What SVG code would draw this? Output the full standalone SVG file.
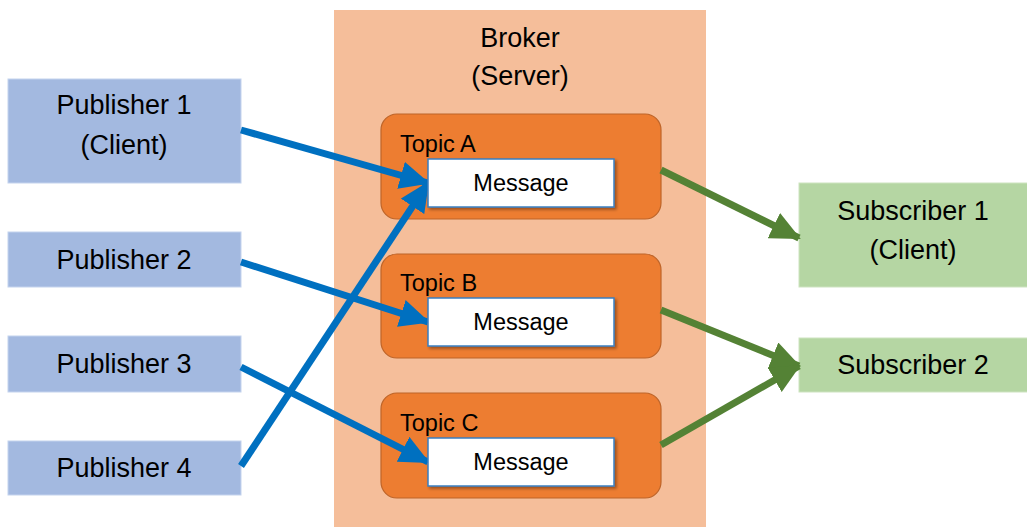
<svg xmlns="http://www.w3.org/2000/svg" width="1027" height="527" viewBox="0 0 1027 527">
<style>
text{font-family:"Liberation Sans",Arial,sans-serif;fill:#000}
.big{font-size:27px;text-anchor:middle}
.sm{font-size:23.5px}
.msgt{font-size:23.5px;text-anchor:middle}
.pub{fill:#A3B9E0;stroke:#C4D3EE;stroke-width:1}
.sub{fill:#B5D6A3;stroke:#CDE3C0;stroke-width:1}
.topic{fill:#ED7D31;stroke:#BE6428;stroke-width:1.2}
.msg{fill:#fff;stroke:#3A7FC1;stroke-width:1.5}
.blue{stroke:#0070C0;stroke-width:7;fill:none;marker-end:url(#ab)}
.green{stroke:#548235;stroke-width:7;fill:none;marker-end:url(#ag)}
</style>
<defs>
<marker id="ab" markerUnits="userSpaceOnUse" markerWidth="30" markerHeight="28" refX="28" refY="14" orient="auto" viewBox="0 0 30 28"><path d="M0,0 L30,14 L0,28 Z" fill="#0070C0"/></marker>
<marker id="ag" markerUnits="userSpaceOnUse" markerWidth="30" markerHeight="28" refX="28" refY="14" orient="auto" viewBox="0 0 30 28"><path d="M0,0 L30,14 L0,28 Z" fill="#548235"/></marker>
<filter id="sh" x="-10%" y="-20%" width="130%" height="150%"><feDropShadow dx="2" dy="2" stdDeviation="1.5" flood-color="#000" flood-opacity="0.35"/></filter>
</defs>
<g id="broker"><rect x="334" y="10" width="372" height="520" fill="#F5BE9A"/><text class="big" x="520" y="47">Broker</text><text class="big" x="520" y="85">(Server)</text></g>
<g id="topicA"><rect class="topic" x="381" y="114" width="280" height="105" rx="16"/><text class="sm" x="400" y="152">Topic A</text></g>
<g id="topicB"><rect class="topic" x="381" y="254" width="280" height="104" rx="16"/><text class="sm" x="400" y="291">Topic B</text></g>
<g id="topicC"><rect class="topic" x="381" y="393" width="280" height="105" rx="16"/><text class="sm" x="400" y="431">Topic C</text></g>
<g id="pub1"><rect class="pub" x="8" y="79" width="233" height="104"/><text class="big" x="124" y="114">Publisher 1</text><text class="big" x="124" y="154">(Client)</text></g>
<g id="pub2"><rect class="pub" x="8" y="232" width="233" height="55"/><text class="big" x="124" y="269">Publisher 2</text></g>
<g id="pub3"><rect class="pub" x="8" y="336" width="233" height="56"/><text class="big" x="124" y="373">Publisher 3</text></g>
<g id="pub4"><rect class="pub" x="8" y="441" width="233" height="54"/><text class="big" x="124" y="477">Publisher 4</text></g>
<g id="sub1"><rect class="sub" x="799" y="183" width="230" height="104"/><text class="big" x="913" y="220">Subscriber 1</text><text class="big" x="913" y="259">(Client)</text></g>
<g id="sub2"><rect class="sub" x="799" y="338" width="230" height="54"/><text class="big" x="913" y="374">Subscriber 2</text></g>
<g id="connectors">
<line class="blue" x1="241" y1="130" x2="428" y2="183"/>
<line class="blue" x1="241" y1="262" x2="428" y2="322"/>
<line class="blue" x1="241" y1="367" x2="428" y2="462"/>
<line class="blue" x1="241" y1="466" x2="428" y2="183"/>
<line class="green" x1="661" y1="170" x2="799" y2="238"/>
<line class="green" x1="661" y1="310" x2="799" y2="366"/>
<line class="green" x1="661" y1="445" x2="799" y2="366"/>
</g>
<g id="msgA"><rect class="msg" x="428" y="159" width="186" height="48" filter="url(#sh)"/><text class="msgt" x="521" y="191">Message</text></g>
<g id="msgB"><rect class="msg" x="428" y="298" width="186" height="48" filter="url(#sh)"/><text class="msgt" x="521" y="330">Message</text></g>
<g id="msgC"><rect class="msg" x="428" y="438" width="186" height="48" filter="url(#sh)"/><text class="msgt" x="521" y="470">Message</text></g>
</svg>
